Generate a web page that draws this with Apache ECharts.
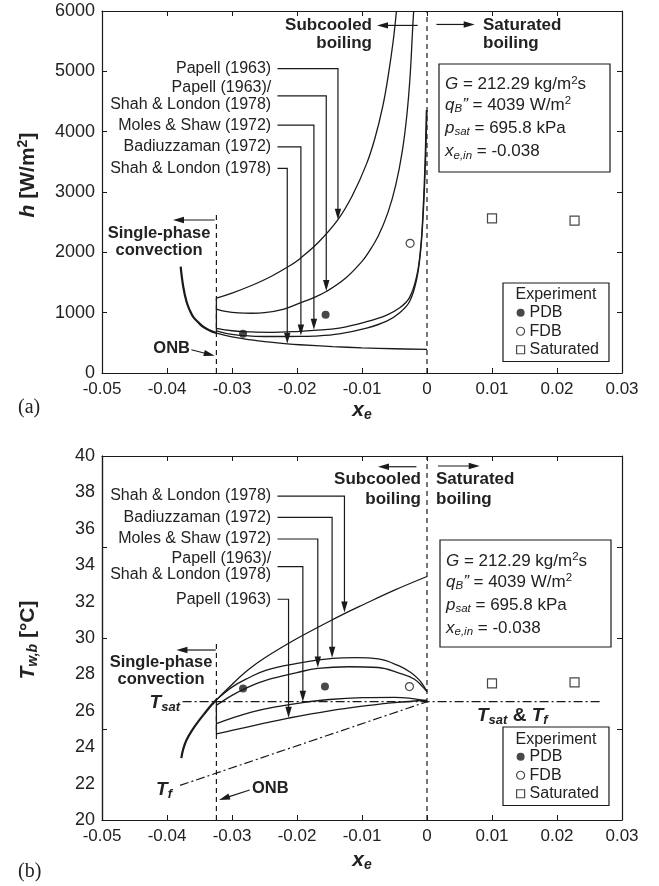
<!DOCTYPE html>
<html>
<head>
<meta charset="utf-8">
<script src="https://cdn.jsdelivr.net/npm/echarts@6/dist/echarts.min.js"></script>
<style>
  html, body { margin: 0; padding: 0; background: #fff; }
  #chart { width: 659px; height: 886px; }
</style>
</head>
<body>
<div id="chart"></div>
<script>
const FAM = '"Liberation Sans", Arial, Helvetica, sans-serif';
const INK = '#1a1a1a';

// ---------- (a) h [W/m2] vs x_e ----------
const xOnb = -0.0324;
const spA_x = [-0.0379, -0.0375, -0.0370, -0.0365, -0.0360, -0.0352, -0.0345, -0.0335, -0.0324];
const spA_h = [1763, 1430, 1185, 1040, 936, 840, 771, 710, 662];
const jumpA_h = [662, 1240];
const slA_x = [-0.0324, -0.030, -0.027, -0.0245, -0.0215, -0.0196, -0.0145, -0.010, -0.005, 0];
const slA_h = [662, 600, 548, 515, 483, 468, 438, 418, 402, 390];
const paA_x = [-0.0324, -0.030, -0.027, -0.024, -0.021, -0.0196, -0.0167, -0.0137, -0.0115, -0.0093, -0.0080, -0.0068, -0.0060, -0.0052, -0.0047];
const paA_h = [1240, 1324, 1450, 1600, 1786, 1891, 2167, 2542, 2938, 3466, 3895, 4423, 4903, 5503, 6000];
const psA_x = [-0.0324, -0.031, -0.029, -0.027, -0.025, -0.022, -0.0196, -0.0175, -0.0155, -0.0125, -0.010, -0.0093, -0.0075, -0.0060, -0.0048, -0.0038, -0.0031, -0.0026, -0.0022, -0.00205];
const psA_h = [1060, 1020, 995, 990, 1000, 1060, 1158, 1246, 1350, 1575, 1850, 1948, 2272, 2662, 3118, 3678, 4273, 4923, 5723, 6000];
const msA_x = [-0.0324, -0.030, -0.027, -0.024, -0.0196, -0.0174, -0.0135, -0.0093, -0.0062, -0.0042, -0.0027, -0.0016, -0.0010, -0.0006, -0.0003, -0.0001];
const msA_h = [740, 700, 680, 675, 690, 705, 745, 850, 960, 1080, 1250, 1600, 2050, 2700, 3500, 4355];
const bzA_x = [-0.0324, -0.030, -0.027, -0.024, -0.0196, -0.0174, -0.0135, -0.0093, -0.0062, -0.0042, -0.0027, -0.0016, -0.0010, -0.0006, -0.0003, 0];
const bzA_h = [700, 640, 612, 605, 606, 612, 650, 744, 860, 1000, 1180, 1550, 2000, 2600, 3300, 4355];
const pdbA_x = [-0.0283, -0.0156], pdbA_h = [650, 964];
const fdbA_x = [-0.0026], fdbA_h = [2150];
const satA_x = [0.0100, 0.0227], satA_h = [2564, 2524];

// ---------- (b) T_w,b [C] vs x_e ----------
const spB_x = [-0.0378, -0.0375, -0.0370, -0.0361, -0.0350, -0.0340, -0.0332, -0.0324];
const spB_t = [23.4, 23.9, 24.4, 24.95, 25.5, 25.95, 26.3, 26.6];
const jumpB_t = [26.6, 24.73];
const slB_x = [-0.0324, -0.030, -0.0275, -0.025, -0.020, -0.015, -0.0127, -0.010, -0.005, 0];
const slB_t = [26.6, 27.45, 28.25, 28.9, 29.97, 30.92, 31.34, 31.80, 32.63, 33.38];
const bzB_x = [-0.0324, -0.030, -0.0275, -0.0247, -0.020, -0.0145, -0.011, -0.0075, -0.0042, -0.0025, -0.0012, -0.0005, 0];
const bzB_t = [26.6, 27.3, 27.8, 28.24, 28.6, 28.88, 28.92, 28.85, 28.45, 28.1, 27.7, 27.35, 27.05];
const msB_x = [-0.0324, -0.030, -0.0275, -0.0247, -0.020, -0.0168, -0.012, -0.0075, -0.0042, -0.0020, -0.0007, 0];
const msB_t = [26.3, 26.85, 27.3, 27.69, 28.1, 28.33, 28.42, 28.38, 28.06, 27.75, 27.33, 27.05];
const psB_x = [-0.0324, -0.030, -0.027, -0.0235, -0.0191, -0.015, -0.010, -0.005, 0];
const psB_t = [25.3, 25.6, 25.93, 26.2, 26.45, 26.62, 26.72, 26.74, 26.55];
const paB_x = [-0.0324, -0.030, -0.025, -0.0213, -0.015, -0.0093, -0.005, 0];
const paB_t = [24.73, 24.92, 25.32, 25.6, 26.0, 26.28, 26.45, 26.58];
const tsat = 26.5, tsatLine_x = [-0.0376, 0.027];
const tf_x = [-0.038, 0], tf_t = [21.9, 26.5];
const pdbB_x = [-0.0283, -0.0157], pdbB_t = [27.22, 27.33];
const fdbB_x = [-0.0027], fdbB_t = [27.33];
const satB_x = [0.0100, 0.0227], satB_t = [27.51, 27.56];

// axis ticks
const xTicks = [-0.05, 0.03, 0.01];
const hTicks = [0, 6000, 1000];
const tTicks = [20, 40, 2];

// annotation arrows (data coords)
const tagStartX = -0.0230;
const tagA_text = ['Papell (1963)', 'Papell (1963)/\nShah & London (1978)', 'Moles & Shaw (1972)', 'Badiuzzaman (1972)', 'Shah & London (1978)'];
const tagA_row = [5045, 4592, 4107, 3748, 3391];
const tagA_tipX = [-0.0137, -0.0155, -0.0174, -0.0194, -0.0215];
const tagA_tipY = [2542, 1360, 715, 620, 485];
const tagB_text = ['Shah & London (1978)', 'Badiuzzaman (1972)', 'Moles & Shaw (1972)', 'Papell (1963)/\nShah & London (1978)', 'Papell (1963)'];
const tagB_row = [37.80, 36.63, 35.44, 33.92, 32.13];
const tagB_tipX = [-0.0127, -0.0146, -0.0168, -0.0191, -0.0213];
const tagB_tipY = [31.4, 28.92, 28.38, 26.5, 25.62];
const regimeA = [[[-0.00143, 5761], [-0.00769, 5761]], [[0.00145, 5777], [0.00734, 5777]],
                 [[-0.03266, 2536], [-0.03908, 2536]], [[-0.03625, 385], [-0.03266, 286]]];
const regimeB = [[[-0.00163, 39.41], [-0.00754, 39.41]], [[0.00169, 39.45], [0.00811, 39.45]],
                 [[-0.0325, 29.34], [-0.03855, 29.34]], [[-0.02728, 21.65], [-0.032, 21.1]]];

const zip = (xs, ys) => xs.map((x, i) => [x, ys[i]]);

function curve(xs, ys, g, w, extra) {
  return Object.assign({
    type: 'line', xAxisIndex: g * 2, yAxisIndex: g === 0 ? 0 : 2,
    data: zip(xs, ys), showSymbol: false, symbol: 'none', smooth: 0.4,
    lineStyle: { color: INK, width: w || 1.3 }, silent: true, z: 3
  }, extra || {});
}
function guide(xs, ys, g, type) {
  return curve(xs, ys, g, 1.2, { smooth: false, lineStyle: { color: INK, width: 1.2, type: type } });
}
function pts(name, xs, ys, g, sym, filled) {
  return {
    type: 'scatter', name: name, xAxisIndex: g * 2, yAxisIndex: g === 0 ? 0 : 2,
    data: zip(xs, ys), symbol: sym, symbolSize: sym === 'rect' ? 9 : 8,
    itemStyle: { color: filled ? INK : '#fff', borderColor: INK, borderWidth: filled ? 0 : 1.2 }, z: 5
  };
}

const lab = { fontFamily: FAM, fontSize: 17, color: '#222' };
function xAx(g, pos) {
  return {
    type: 'value', gridIndex: g, position: pos, min: xTicks[0], max: xTicks[1], interval: xTicks[2],
    axisLine: { show: true, onZero: false, lineStyle: { color: INK, width: 1.2 } },
    axisTick: { show: true, inside: true, length: 5, lineStyle: { color: INK } },
    axisLabel: pos === 'bottom' ? Object.assign({ margin: 8, formatter: v => Math.abs(v) < 1e-9 ? '0' : v.toFixed(2) }, lab) : { show: false },
    splitLine: { show: false }
  };
}
function yAx(g, pos, t, showLabel, tickInside, tickShow) {
  return {
    type: 'value', gridIndex: g, position: pos, min: t[0], max: t[1], interval: t[2],
    axisLine: { show: true, onZero: false, lineStyle: { color: INK, width: 1.2 } },
    axisTick: { show: tickShow, inside: tickInside, length: 5, lineStyle: { color: INK } },
    axisLabel: showLabel ? Object.assign({}, lab, { margin: 7, fontSize: 18, formatter: v => String(v) }) : { show: false },
    splitLine: { show: false }
  };
}

const legendCommon = {
  orient: 'vertical', data: [
    { name: 'PDB', icon: 'circle', itemStyle: { color: INK, borderWidth: 0 } },
    { name: 'FDB', icon: 'circle', itemStyle: { color: '#fff', borderColor: INK, borderWidth: 1.2 } },
    { name: 'Saturated', icon: 'rect', itemStyle: { color: '#fff', borderColor: INK, borderWidth: 1.2 } }
  ],
  itemWidth: 8, itemHeight: 8, itemGap: 1, padding: [21, 10, 3, 13],
  borderColor: INK, borderWidth: 1.2, backgroundColor: '#fff',
  textStyle: { fontFamily: FAM, fontSize: 16, color: '#222', lineHeight: 17.5 },
  selectedMode: false
};

const chart = echarts.init(document.getElementById('chart'), null, { renderer: 'canvas' });
chart.setOption({
  animation: false,
  backgroundColor: '#fff',
  grid: [
    { left: 102, top: 11, width: 520, height: 362, outerBoundsMode: 'none' },
    { left: 102, top: 456, width: 520, height: 364, outerBoundsMode: 'none' }
  ],
  xAxis: [xAx(0, 'bottom'), xAx(0, 'top'), xAx(1, 'bottom'), xAx(1, 'top')],
  yAxis: [
    yAx(0, 'left', hTicks, true, true, true),
    yAx(0, 'right', hTicks, false, true, true),
    yAx(1, 'left', tTicks, true, true, false),
    yAx(1, 'right', [20, 40, 5], false, true, true),
    yAx(1, 'left', [20, 40, 5], false, true, true)
  ],
  legend: [
    Object.assign({ left: 503, top: 283 }, legendCommon),
    Object.assign({ left: 503, top: 727 }, legendCommon)
  ],
  series: [
    // (a)
    guide([xOnb, xOnb], [0, 2620], 0, [5, 4]),
    guide([0, 0], [0, 6000], 0, [5, 4]),
    curve(spA_x, spA_h, 0, 2.2),
    curve([xOnb, xOnb], jumpA_h, 0, 1.3, { smooth: false }),
    curve(slA_x, slA_h, 0),
    curve(paA_x, paA_h, 0),
    curve(psA_x, psA_h, 0),
    curve(msA_x, msA_h, 0),
    curve(bzA_x, bzA_h, 0),
    pts('PDB', pdbA_x, pdbA_h, 0, 'circle', true),
    pts('FDB', fdbA_x, fdbA_h, 0, 'circle', false),
    pts('Saturated', satA_x, satA_h, 0, 'rect', false),
    // (b)
    guide([xOnb, xOnb], [20, 29.7], 1, [5, 4]),
    guide([0, 0], [20, 40], 1, [5, 4]),
    guide(tsatLine_x, [tsat, tsat], 1, [9, 3, 2, 3]),
    guide(tf_x, tf_t, 1, [9, 3, 2, 3]),
    curve(spB_x, spB_t, 1, 2.2),
    curve([xOnb, xOnb], jumpB_t, 1, 1.3, { smooth: false }),
    curve(slB_x, slB_t, 1),
    curve(bzB_x, bzB_t, 1),
    curve(msB_x, msB_t, 1),
    curve(psB_x, psB_t, 1),
    curve(paB_x, paB_t, 1),
    pts('PDB', pdbB_x, pdbB_t, 1, 'circle', true),
    pts('FDB', fdbB_x, fdbB_t, 1, 'circle', false),
    pts('Saturated', satB_x, satB_t, 1, 'rect', false)
  ]
});

// ---------- annotations ----------
function st(size, bold, italic, extra) {
  return Object.assign({ fontSize: size, fontFamily: FAM, fontWeight: bold ? 'bold' : 'normal',
    fontStyle: italic ? 'italic' : 'normal', fill: '#222' }, extra || {});
}
function txt(x, y, text, size, o) {
  o = o || {};
  return {
    type: 'text', x: x, y: y, z: 60, rotation: o.rot || 0,
    style: Object.assign(st(size, o.bold, o.italic), {
      text: text, textAlign: o.align || 'left', textVerticalAlign: 'middle',
      lineHeight: o.lh || undefined, rich: o.rich || undefined
    })
  };
}
function px(g, p) { return chart.convertToPixel({ gridIndex: g }, p); }
function arrow(points) {
  const n = points.length;
  const [x2, y2] = points[n - 1], [x1, y1] = points[n - 2];
  const L = Math.hypot(x2 - x1, y2 - y1), ux = (x2 - x1) / L, uy = (y2 - y1) / L;
  const len = 11, hw = 3.2;
  const bx = x2 - ux * len, by = y2 - uy * len;
  const shaft = points.slice(0, n - 1).concat([[bx + ux, by + uy]]);
  return [
    { type: 'polyline', z: 55, shape: { points: shaft }, style: { stroke: INK, lineWidth: 1.2, fill: null } },
    { type: 'polygon', z: 55, shape: { points: [[x2, y2], [bx - uy * hw, by + ux * hw], [bx + uy * hw, by - ux * hw]] }, style: { fill: INK } }
  ];
}

const g = [];
function tagSet(gi, texts, rows, tipX, tipY) {
  texts.forEach((t, i) => {
    const p0 = px(gi, [tagStartX, rows[i]]);
    const p1 = px(gi, [tipX[i], rows[i]]);
    const p2 = px(gi, [tipX[i], tipY[i]]);
    g.push(...arrow([p0, p1, p2]));
    g.push(txt(p0[0] - 6.3, p0[1], t, 16, { align: 'right', lh: 16.7 }));
  });
}
tagSet(0, tagA_text, tagA_row, tagA_tipX, tagA_tipY);
tagSet(1, tagB_text, tagB_row, tagB_tipX, tagB_tipY);
regimeA.forEach(a => g.push(...arrow(a.map(p => px(0, p)))));
regimeB.forEach(a => g.push(...arrow(a.map(p => px(1, p)))));

const B = { bold: true };
// (a) texts
g.push(txt(372, 25, 'Subcooled', 17, Object.assign({ align: 'right' }, B)));
g.push(txt(372, 43, 'boiling', 17, Object.assign({ align: 'right' }, B)));
g.push(txt(483, 25, 'Saturated', 17, B));
g.push(txt(483, 43, 'boiling', 17, B));
g.push(txt(159, 233, 'Single-phase', 16.5, Object.assign({ align: 'center' }, B)));
g.push(txt(159, 250, 'convection', 16.5, Object.assign({ align: 'center' }, B)));
g.push(txt(190, 348, 'ONB', 16.5, Object.assign({ align: 'right' }, B)));
// (b) texts
g.push(txt(421, 479, 'Subcooled', 17, Object.assign({ align: 'right' }, B)));
g.push(txt(421, 499, 'boiling', 17, Object.assign({ align: 'right' }, B)));
g.push(txt(436, 479, 'Saturated', 17, B));
g.push(txt(436, 499, 'boiling', 17, B));
g.push(txt(161, 662, 'Single-phase', 16.5, Object.assign({ align: 'center' }, B)));
g.push(txt(161, 679, 'convection', 16.5, Object.assign({ align: 'center' }, B)));
g.push(txt(252, 788, 'ONB', 16.5, B));

const symRich = {
  t: st(19, true, true, { lineHeight: 22 }),
  s: st(13, true, true, { lineHeight: 13, verticalAlign: 'bottom' }),
  n: st(19, true, false, { lineHeight: 22 })
};
g.push(txt(180, 703, '{t|T}{s|sat}', 19, { align: 'right', rich: symRich }));
g.push(txt(172, 790, '{t|T}{s|f}', 19, { align: 'right', rich: symRich }));
g.push(txt(477, 716, '{t|T}{s|sat}{n| & }{t|T}{s|f}', 19, { rich: symRich }));

// info boxes
const infoRich = {
  n: st(17, false, false, { lineHeight: 20 }),
  i: st(17, false, true, { lineHeight: 20 }),
  sub: st(11.5, false, true, { lineHeight: 12, verticalAlign: 'bottom' }),
  sup: st(11.5, false, false, { lineHeight: 12, verticalAlign: 'top' })
};
const infoLines = ['{i|G}{n| = 212.29 kg/m}{sup|2}{n|s}', '{i|q}{sub|B}{i|\u201D}{n| = 4039 W/m}{sup|2}',
                   '{i|p}{sub|sat}{n| = 695.8 kPa}', '{i|x}{sub|e,in}{n| = -0.038}'];
function infoBox(x0, y0, w, h, ys) {
  g.push({ type: 'rect', z: 50, shape: { x: x0, y: y0, width: w, height: h }, style: { fill: '#fff', stroke: INK, lineWidth: 1.2 } });
  infoLines.forEach((l, i) => g.push(txt(x0 + 6, ys[i], l, 17, { rich: infoRich })));
}
infoBox(439, 64, 171, 108, [84.5, 105, 128, 151.5]);
infoBox(440, 540, 171, 107, [561, 582, 605, 628]);

// legend titles
g.push(txt(556, 295, 'Experiment', 16, { align: 'center' }));
g.push(txt(556, 740, 'Experiment', 16, { align: 'center' }));

// axis titles
const axRich = {
  t: st(21, true, true, { lineHeight: 24 }),
  s: st(14, true, true, { lineHeight: 14, verticalAlign: 'bottom' }),
  n: st(21, true, false, { lineHeight: 24 }),
  p: st(14, true, false, { lineHeight: 14, verticalAlign: 'top' })
};
g.push(txt(28, 175, '{t|h}{n| [W/m}{p|2}{n|]}', 21, { align: 'center', rot: Math.PI / 2, rich: axRich }));
g.push(txt(28, 640, '{t|T}{s|w,b}{n| [°C]}', 21, { align: 'center', rot: Math.PI / 2, rich: axRich }));
g.push(txt(362, 410, '{t|x}{s|e}', 22, { align: 'center', rich: axRich }));
g.push(txt(362, 860, '{t|x}{s|e}', 22, { align: 'center', rich: axRich }));
g.push({ type: 'text', x: 18, y: 408, z: 60, style: { text: '(a)', fontSize: 20, fontFamily: '"Liberation Serif", serif', fill: '#222', textVerticalAlign: 'middle' } });
g.push({ type: 'text', x: 18, y: 872, z: 60, style: { text: '(b)', fontSize: 20, fontFamily: '"Liberation Serif", serif', fill: '#222', textVerticalAlign: 'middle' } });

chart.setOption({ graphic: g });
</script>
</body>
</html>
